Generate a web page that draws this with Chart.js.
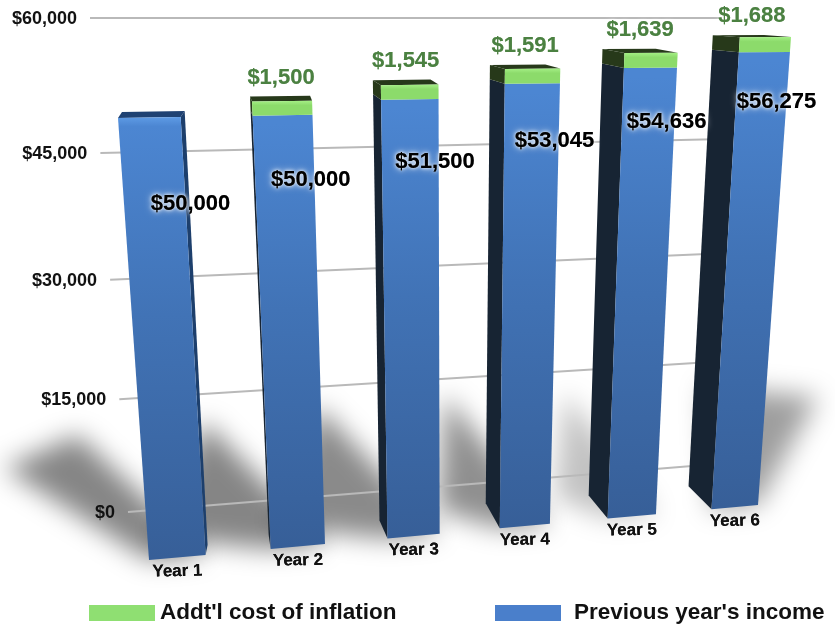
<!DOCTYPE html>
<html>
<head>
<meta charset="utf-8">
<title>Income and inflation</title>
<script src="https://cdn.jsdelivr.net/npm/chart.js@4"></script>
<style>
    html, body { margin: 0; padding: 0; background: #fff; }
    canvas { display: block; }
</style>
</head>
<body>
<canvas id="income-plot" width="835" height="626"></canvas>
<script>
const years = ["Year 1", "Year 2", "Year 3", "Year 4", "Year 5", "Year 6"];
const previousIncome = [50000, 50000, 51500, 53045, 54636, 56275];
const inflationCost = [0, 1500, 1545, 1591, 1639, 1688];

const FONT = '"Liberation Sans", Arial, sans-serif';

// solve the 4 point perspective mapping, src and dst are lists of [x, y]
function makeWarp(src, dst) {
    const m = [];
    for (let i = 0; i < 4; i++) {
        const [x, y] = src[i], [X, Y] = dst[i];
        m.push([x, y, 1, 0, 0, 0, -x * X, -y * X, X]);
        m.push([0, 0, 0, x, y, 1, -x * Y, -y * Y, Y]);
    }
    for (let c = 0; c < 8; c++) {
        let p = c;
        for (let r = c + 1; r < 8; r++) if (Math.abs(m[r][c]) > Math.abs(m[p][c])) p = r;
        [m[c], m[p]] = [m[p], m[c]];
        for (let r = 0; r < 8; r++) {
            if (r === c) continue;
            const k = m[r][c] / m[c][c];
            for (let j = c; j < 9; j++) m[r][j] -= k * m[c][j];
        }
    }
    const h = m.map((row, i) => row[8] / row[i]);
    return (x, y) => {
        const w = h[6] * x + h[7] * y + 1;
        return [(h[0] * x + h[1] * y + h[2]) / w, (h[3] * x + h[4] * y + h[5]) / w];
    };
}

function fillPoly(ctx, pts, fill) {
    ctx.beginPath();
    pts.forEach((p, i) => i ? ctx.lineTo(p[0], p[1]) : ctx.moveTo(p[0], p[1]));
    ctx.closePath();
    ctx.fillStyle = fill;
    ctx.fill();
}

function glowText(ctx, text, x, y, color, glow, blur, rotate) {
    ctx.save();
    ctx.translate(x, y);
    if (rotate) ctx.rotate(rotate);
    ctx.textAlign = "center";
    ctx.textBaseline = "middle";
    ctx.fillStyle = color;
    ctx.shadowColor = glow;
    ctx.shadowBlur = blur;
    ctx.fillText(text, 0, 0);
    ctx.shadowBlur = blur / 2;
    ctx.fillText(text, 0, 0);
    ctx.restore();
}

// where the value label sits, relative to the top middle of the blue front face
const valueLabelShift = [[41, 86], [28, 65], [25, 63], [22, 57], [16, 54], [12, 50]];
// depth of each bar on screen, front corner to back corner [dx, dy], at its top and at its foot
const depthTop = [[4, -6], [-2, -5], [-8, -5], [-15, -4], [-22, -4], [-27, -2]];
const depthFoot = [[2, -10], [-2, -14], [-8, -18], [-14, -25], [-19, -23], [-23, -23]];
// how far each floor shadow reaches from the bar foot: [left dx, left dy, right dx, right dy]
const shadowReach = [
    [-145, -92, -128, -120],
    [-115, -12, -121, -123],
    [-112, -12, -122, -128],
    [-62, -18, -105, -129],
    [-53, -21, -91, -122],
    [-6, -123, 60, -108]
];
const shadowAlpha = [0.48, 0.48, 0.46, 0.44, 0.24, 0.38];

function buildWarps(chart) {
    const x = chart.scales.x, y = chart.scales.y;
    const base = chart.getDatasetMeta(0).data;
    const top = chart.getDatasetMeta(1).data;
    const y0 = y.getPixelForValue(0);
    const yMax = y.getPixelForValue(60000);
    const left0 = base[0].x - base[0].width / 2;
    const right5 = base[5].x + base[5].width / 2;
    return {
        y0,
        front: makeWarp(
            [[left0, y0], [left0, top[0].y], [right5, y0], [right5, top[5].y]],
            [[149, 560], [118, 118], [758, 505], [791, 37]]),
        wall: makeWarp(
            [[x.left, y0], [x.left, yMax], [x.right, y0], [x.right, yMax]],
            [[128, 512], [90, 18], [692, 466], [722, 18]]),
        // back corner of bar i, pushed away from the front face
        back(i, px, py, front) {
            const p = front(px, py);
            const t = (y0 - py) / (y0 - top[i].y);
            return [
                p[0] + depthFoot[i][0] + (depthTop[i][0] - depthFoot[i][0]) * t,
                p[1] + depthFoot[i][1] + (depthTop[i][1] - depthFoot[i][1]) * t
            ];
        }
    };
}

const perspectivePlugin = {
    id: "perspective",
    beforeDatasetDraw() {
        return false; // the bars are painted below, through the warp
    },
    beforeDatasetsDraw(chart) {
        const ctx = chart.ctx;
        const x = chart.scales.x, y = chart.scales.y;
        const base = chart.getDatasetMeta(0).data;
        const top = chart.getDatasetMeta(1).data;
        const { y0, front, wall, back } = buildWarps(chart);

        // shadows on the floor
        ctx.save();
        ctx.filter = "blur(13px)";
        base.forEach((el, i) => {
            const l = front(el.x - el.width / 2, y0), r = front(el.x + el.width / 2, y0);
            const s = shadowReach[i];
            fillPoly(ctx, [l, r, [r[0] + s[2], r[1] + s[3]], [l[0] + s[0], l[1] + s[1]]],
                "rgba(0,0,0," + shadowAlpha[i] + ")");
        });
        ctx.restore();

        // gridlines and value axis
        ctx.font = "bold 18px " + FONT;
        y.ticks.forEach(tick => {
            const py = y.getPixelForValue(tick.value);
            const a = wall(x.left, py), b = wall(x.right, py);
            ctx.beginPath();
            ctx.moveTo(a[0], a[1]);
            ctx.lineTo(b[0], b[1]);
            ctx.strokeStyle = "#b9b9b9";
            ctx.lineWidth = 2;
            ctx.stroke();
            ctx.textAlign = "right";
            ctx.textBaseline = "middle";
            ctx.fillStyle = "#111";
            ctx.fillText(tick.label, a[0] - 13, a[1] + 1);
        });

        // the bars
        base.forEach((el, i) => {
            const hasTop = inflationCost[i] > 0;
            const l = el.x - el.width / 2, r = el.x + el.width / 2;
            const topY = top[i].y, midY = el.y;
            const sideFill = hasTop ? "#172433" : "#1d3f6c";
            const capFill = hasTop ? "#27391a" : "#1f4273";
            const bk = (px, py) => back(i, px, py, front);

            // left or right side face, whichever faces the camera
            const e = depthTop[i][0] < 0 ? l : r;
            fillPoly(ctx, [bk(e, y0), bk(e, midY), front(e, midY), front(e, y0)], sideFill);
            if (hasTop) {
                fillPoly(ctx, [bk(e, midY), bk(e, topY), front(e, topY), front(e, midY)], "#27391a");
            }
            fillPoly(ctx, [bk(l, topY), bk(r, topY), front(r, topY), front(l, topY)], capFill);

            const fTop = front(el.x, midY), fBot = front(el.x, y0);
            const blue = ctx.createLinearGradient(0, fTop[1], 0, fBot[1]);
            blue.addColorStop(0, hasTop ? "#4c86d2" : "#5d9ae4");
            blue.addColorStop(0.02, "#4c86d2");
            blue.addColorStop(0.45, "#4173b6");
            blue.addColorStop(1, "#375f98");
            fillPoly(ctx, [front(l, y0), front(l, midY), front(r, midY), front(r, y0)], blue);
            if (hasTop) {
                const gTop = front(el.x, topY), gBot = front(el.x, midY);
                const green = ctx.createLinearGradient(0, gTop[1], 0, gBot[1]);
                green.addColorStop(0, "#a3ee84");
                green.addColorStop(0.3, "#8cdb6b");
                green.addColorStop(1, "#8cdb6b");
                fillPoly(ctx, [front(l, midY), front(l, topY), front(r, topY), front(r, midY)], green);
            }
        });
    },
    afterDatasetsDraw(chart) {
        const ctx = chart.ctx;
        const base = chart.getDatasetMeta(0).data;
        const top = chart.getDatasetMeta(1).data;
        const { y0, front, back } = buildWarps(chart);

        base.forEach((el, i) => {
            const l = el.x - el.width / 2, r = el.x + el.width / 2;
            const anchor = front(el.x, el.y);
            const shift = valueLabelShift[i];

            ctx.font = "bold 22px " + FONT;
            glowText(ctx, "$" + previousIncome[i].toLocaleString("en-US"),
                anchor[0] + shift[0], anchor[1] + shift[1], "#000", "#fff", 7);

            if (inflationCost[i] > 0) {
                const outerLeft = back(i, l, top[i].y, front);
                const outerRight = front(r, top[i].y);
                glowText(ctx, "$" + inflationCost[i].toLocaleString("en-US"),
                    (outerLeft[0] + outerRight[0]) / 2, outerLeft[1] - 19, "#4b8141", "rgba(255,255,255,0.9)", 4);
            }

            const foot = front(el.x, y0);
            ctx.font = "bold 17px " + FONT;
            glowText(ctx, years[i], foot[0], foot[1] + 14, "#111", "rgba(255,255,255,0)", 0, -0.02);
        });

        // legend, laid out by hand because the native one wraps at this spacing
        const legendSlots = [[89, 160], [495, 574]];
        [chart.data.datasets[1], chart.data.datasets[0]].forEach((ds, i) => {
            ctx.fillStyle = ds.backgroundColor;
            ctx.fillRect(legendSlots[i][0], 605, 66, 16);
            ctx.font = "bold 22.5px " + FONT;
            ctx.textAlign = "left";
            ctx.textBaseline = "middle";
            ctx.fillStyle = "#111";
            ctx.fillText(ds.label, legendSlots[i][1], 613);
        });
    }
};

function createIncomeChart(chartId) {
    return new Chart(chartId, {
        type: "bar",
        data: {
            labels: years,
            datasets: [
                { label: "Previous year's income", data: previousIncome, backgroundColor: "#4a7fcb" },
                { label: "Addt'l cost of inflation", data: inflationCost, backgroundColor: "#8fdf72" }
            ]
        },
        options: {
            responsive: false,
            animation: false,
            barPercentage: 0.46,
            categoryPercentage: 1,
            layout: { padding: 0 },
            plugins: {
                legend: { display: false },
                tooltip: { enabled: false },
                title: { display: false }
            },
            scales: {
                x: { stacked: true, display: false },
                y: {
                    stacked: true,
                    display: false,
                    min: 0,
                    max: 60000,
                    ticks: {
                        stepSize: 15000,
                        callback: value => "$" + value.toLocaleString("en-US")
                    }
                }
            }
        },
        plugins: [perspectivePlugin]
    });
}

createIncomeChart("income-plot");
</script>
</body>
</html>
